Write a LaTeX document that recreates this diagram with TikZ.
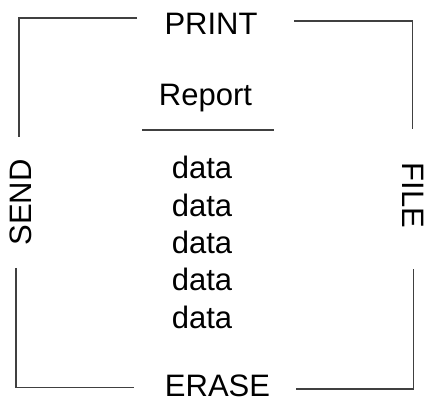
\documentclass[tikz,border=0pt]{standalone}
\usepackage{fontspec}
\setmainfont{Liberation Sans}
\definecolor{framegray}{RGB}{64,64,64}
\begin{document}
\begin{tikzpicture}[x=1pt,y=1pt,
  lbl/.style={font=\fontsize{31}{37}\selectfont, inner sep=0pt, anchor=base, text=black},
  side/.style={font=\fontsize{31}{37}\selectfont, inner sep=0pt, anchor=center, text=black},
  frame/.style={draw=framegray, line width=1.5pt}]
\useasboundingbox (0,0) rectangle (428,403);
% texts
\node[lbl] (print) at (211,368) {PRINT};
\node[lbl] (report) at (205.5,297) {Report};
\node[lbl] (d1) at (202,224.3) {data};
\node[lbl] (d2) at (202,186.9) {data};
\node[lbl] (d3) at (202,149.5) {data};
\node[lbl] (d4) at (202,112.1) {data};
\node[lbl] (d5) at (202,74.7) {data};
\node[lbl] (erase) at (217.5,6.5) {ERASE};
\node[side, rotate=90] (send) at (21,200.5) {SEND};
\node[side, rotate=-90] (file) at (413,207.5) {FILE};
% frame corners
\coordinate (tlA) at (137,385); \coordinate (tlC) at (19,385); \coordinate (tlB) at (19,266);
\coordinate (trA) at (294,382); \coordinate (trC) at (412.5,382); \coordinate (trB) at (412.5,274);
\coordinate (blA) at (16,135); \coordinate (blC) at (16,15.3); \coordinate (blB) at (134,15.3);
\coordinate (brA) at (296,14); \coordinate (brC) at (413.5,14); \coordinate (brB) at (413.5,134);
\draw[frame] (tlA) -- (tlC) -- (tlB);
\draw[frame] (trA) -- (trC) -- (trB);
\draw[frame] (blA) -- (blC) -- (blB);
\draw[frame] (brA) -- (brC) -- (brB);
% report underline
\coordinate (ulA) at (142,273); \coordinate (ulB) at (274,273);
\draw[frame] (ulA) -- (ulB);
\end{tikzpicture}
\end{document}
